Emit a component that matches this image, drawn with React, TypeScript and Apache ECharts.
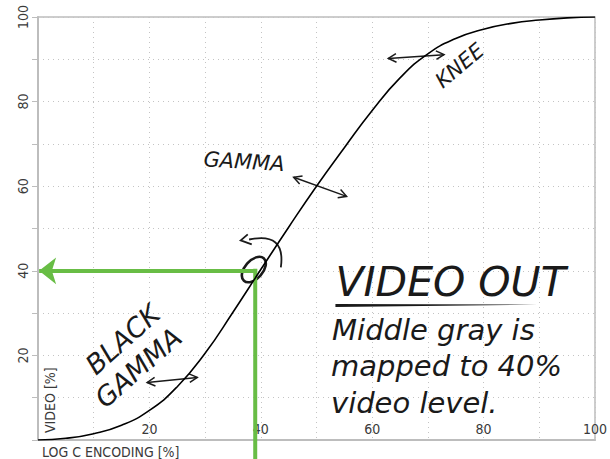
import React, { useEffect, useRef } from "react";
import * as echarts from "echarts";

// ---- data ----
const curveX = [0, 5, 10, 15, 20, 25, 30, 35, 40, 45, 50, 55, 60, 65, 70, 75, 80, 85, 90, 95, 100];
const curveY = [0, 0.4, 1.5, 3.5, 7.0, 12.6, 20.5, 30.2, 40.3, 50.3, 60.0, 69.1, 77.9, 85.6, 91.3, 94.9, 97.1, 98.5, 99.3, 99.8, 100];
const xTickLabels = [20, 40, 60, 80, 100];
const yTickLabels = [20, 40, 60, 80, 100];
const middleGray = [39, 40]; // log C 39% -> video 40%
const xAxisName = "LOG C ENCODING [%]";
const yAxisName = "VIDEO [%]";
const noteTitle = "VIDEO OUT";
const noteLines = ["Middle gray is", "mapped to 40%", "video level."];

const GREEN = "#68bd45";
const INK = "#1a1a1a";
const HAND = "'DejaVu Sans ExtraLight', 'DejaVu Sans', sans-serif";
const NARROW = "'Liberation Sans Narrow', 'DejaVu Sans Condensed', sans-serif";

export default function App() {
  const ref = useRef<HTMLDivElement>(null);
  useEffect(() => {
    if (!ref.current) return;
    const chart = echarts.init(ref.current, null, { renderer: "svg" });
    const axisLabel = (rot: number, inside: boolean, margin: number, list: number[]) => ({
      inside,
      rotate: rot,
      margin,
      color: "#3a3a3a",
      fontFamily: NARROW,
      fontSize: 14,
      formatter: (v: number) => (list.indexOf(v) >= 0 ? String(v) : ""),
    });
    const splitLine = { show: true, lineStyle: { color: "#c4c4c4", type: [1, 4] as any, width: 1 } };
    chart.setOption({
      animation: false,
      grid: { left: 38, top: 17, width: 560, height: 423, show: true, borderColor: "#bdbdbd", borderWidth: 1.5, containLabel: false },
      xAxis: {
        type: "value", min: 0, max: 100, interval: 10,
        axisLine: { show: true, lineStyle: { color: "#bdbdbd", width: 2 } },
        axisTick: { show: false },
        axisLabel: axisLabel(0, true, 4, xTickLabels),
        splitLine,
      },
      yAxis: {
        type: "value", min: 0, max: 100, interval: 10,
        axisLine: { show: true, lineStyle: { color: "#bdbdbd", width: 2 } },
        axisTick: { show: true, length: 6, lineStyle: { color: "#bdbdbd" } },
        axisLabel: axisLabel(90, false, 8, yTickLabels),
        splitLine,
      },
      series: [
        {
          type: "line",
          data: curveX.map((x, i) => [x, curveY[i]]),
          smooth: 0.5,
          showSymbol: false,
          symbol: "none",
          lineStyle: { color: "#000", width: 1.6 },
          z: 3,
        },
        {
          // vertical green drop line, running below the axis
          type: "line",
          data: [[middleGray[0], middleGray[1] + 0.5], [middleGray[0], -5]],
          clip: false,
          showSymbol: false,
          symbol: "none",
          lineStyle: { color: GREEN, width: 4 },
          z: 2,
          markLine: {
            silent: true,
            symbol: ["none", "arrow"],
            symbolSize: [20, 17],
            label: { show: false },
            lineStyle: { color: GREEN, width: 4, type: "solid" },
            data: [
              [{ coord: [middleGray[0] + 0.35, middleGray[1]], symbol: "none" }, { coord: [0.2, middleGray[1]], symbol: "arrow" }],
            ],
          },
        },
      ],
    });

    const px = (x: number, y: number) => chart.convertToPixel({ gridIndex: 0 }, [x, y]) as number[];
    const ls = { stroke: INK, lineWidth: 1.5, fill: "none" };

    const chevron = (tip: number[], from: number[], len = 9, spread = 0.5) => {
      const a = Math.atan2(from[1] - tip[1], from[0] - tip[0]);
      return {
        type: "polyline",
        shape: {
          points: [
            [tip[0] + len * Math.cos(a + spread), tip[1] + len * Math.sin(a + spread)],
            tip,
            [tip[0] + len * Math.cos(a - spread), tip[1] + len * Math.sin(a - spread)],
          ],
        },
        style: ls,
      };
    };
    const dblArrow = (a: number[], b: number[]) => {
      const p = px(a[0], a[1]);
      const q = px(b[0], b[1]);
      return [
        { type: "line", shape: { x1: p[0], y1: p[1], x2: q[0], y2: q[1] }, style: ls },
        chevron(p, q),
        chevron(q, p),
      ];
    };
    const hand = (t: string, at: number[], size: number, rot: number, align = "center", vAlign = "middle") => {
      const p = px(at[0], at[1]);
      return {
        type: "text",
        x: p[0],
        y: p[1],
        rotation: rot,
        style: {
          text: t,
          fill: INK,
          fontFamily: HAND,
          fontSize: size,
          fontStyle: "italic",
          fontWeight: 200,
          align,
          verticalAlign: vAlign,
        },
      };
    };

    const circ = px(38.75, 40.3);
    const cStart = px(37.9, 47.4);
    const cCtrl = px(44.5, 49.3);
    const cEnd = px(43.6, 40.8);
    const headTip = px(36.4, 47.2);
    const ulA = px(53.4, 31.8);
    const ulB = px(89.6, 32.0);

    const graphic: any[] = [
      // axis names
      { type: "text", x: 42, y: 452, style: { text: xAxisName, fill: "#3a3a3a", fontFamily: NARROW, fontSize: 14, align: "left", verticalAlign: "middle" } },
      { type: "text", x: 50, y: 433, rotation: Math.PI / 2, style: { text: yAxisName, fill: "#3a3a3a", fontFamily: NARROW, fontSize: 14, align: "left", verticalAlign: "middle" } },
      // gamma
      hand("GAMMA", [37.0, 65.8], 21, -0.06),
      ...dblArrow([45.9, 62.1], [55.4, 57.6]),
      // knee
      hand("KNEE", [75.7, 88.5], 21, 0.7),
      ...dblArrow([62.9, 90.2], [72.9, 91.1]),
      // black gamma
      hand("BLACK", [15.2, 23.8], 27, 0.73),
      hand("GAMMA", [18.0, 17.1], 27, 0.72),
      ...dblArrow([19.6, 13.6], [28.6, 14.8]),
      // circle + curved arrow at middle gray
      { type: "ellipse", x: circ[0], y: circ[1], rotation: 0.85, shape: { cx: 0, cy: 0, rx: 15, ry: 9 }, style: { stroke: INK, lineWidth: 2.6, fill: "none" } },
      { type: "bezierCurve", shape: { x1: cStart[0], y1: cStart[1], cpx1: cCtrl[0], cpy1: cCtrl[1], x2: cEnd[0], y2: cEnd[1] }, style: { ...ls, lineWidth: 1.8 } },
      { type: "polyline", shape: { points: [[headTip[0] + 7, headTip[1] - 6], headTip, [headTip[0] + 11, headTip[1] + 4]] }, style: { ...ls, lineWidth: 1.8 } },
      // note
      hand(noteTitle, [53.4, 32.6], 41, 0, "left", "bottom"),
      { type: "polygon", shape: { points: [[ulA[0], ulA[1] - 1.5], [ulB[0], ulB[1]], [ulA[0], ulA[1] + 1.5]] }, style: { fill: INK } },
      hand(noteLines[0], [52.8, 22.6], 29, 0, "left", "bottom"),
      hand(noteLines[1], [52.6, 14.0], 29, 0, "left", "bottom"),
      hand(noteLines[2], [52.6, 5.3], 29, 0, "left", "bottom"),
    ];
    chart.setOption({ graphic });
    return () => chart.dispose();
  }, []);
  return <div ref={ref} style={{ position: "fixed", left: 0, top: 0, width: 610, height: 459, background: "#fff" }} />;
}
